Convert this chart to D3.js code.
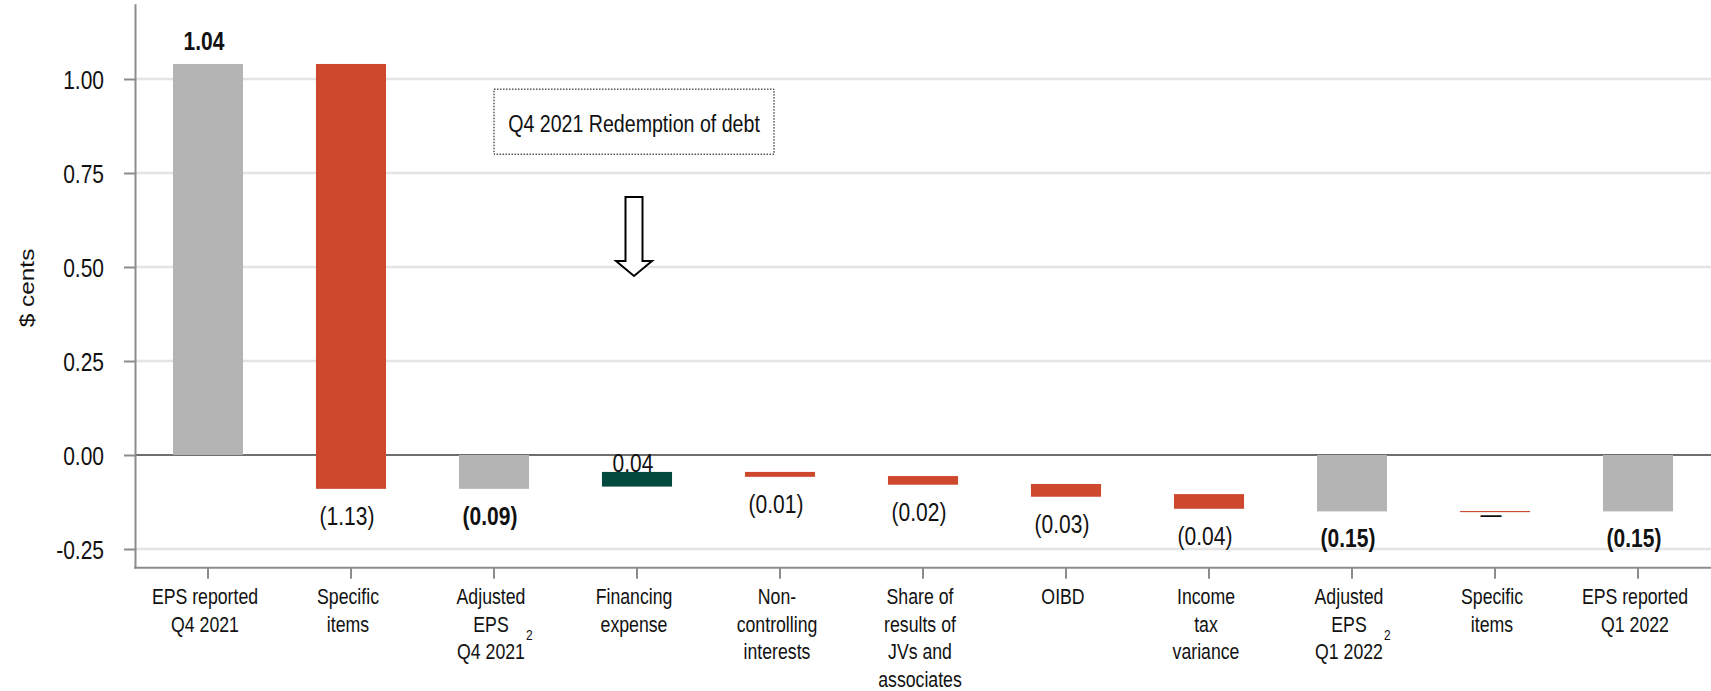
<!DOCTYPE html>
<html lang="en">

<head>
    <meta charset="UTF-8">
    <title>EPS bridge Q4 2021 - Q1 2022</title>
    <style>
        body {
            margin: 0;
            background: #fff;
        }

        svg text {
            font-family: "Liberation Sans", Arial, sans-serif;
            fill: #111;
        }
    </style>
</head>

<body>
    <div id="chart"></div>
    <script src="https://d3js.org/d3.v7.min.js"></script>

    <script>
        // categories (lines of the x labels), footnote markers
        const categories = [
            ['EPS reported', 'Q4 2021'],
            ['Specific', 'items'],
            ['Adjusted', 'EPS', 'Q4 2021'],
            ['Financing', 'expense'],
            ['Non-', 'controlling', 'interests'],
            ['Share of', 'results of', 'JVs and', 'associates'],
            ['OIBD'],
            ['Income', 'tax', 'variance'],
            ['Adjusted', 'EPS', 'Q1 2022'],
            ['Specific', 'items'],
            ['EPS reported', 'Q1 2022']
        ];
        const footnotes = ['', '', '2', '', '', '', '', '', '2', '', ''];

        // bar start / end values
        const barFrom = [0, 1.04, 0, -0.084, -0.045, -0.056, -0.077, -0.104, 0, -0.149, 0];
        const barTo = [1.04, -0.09, -0.09, -0.045, -0.058, -0.079, -0.111, -0.143, -0.15, -0.152, -0.15];
        const kinds = ['total', 'decrease', 'total', 'increase', 'decrease', 'decrease',
            'decrease', 'decrease', 'total', 'decrease', 'total'];
        const valueLabels = ['1.04', '(1.13)', '(0.09)', '0.04', '(0.01)', '(0.02)',
            '(0.03)', '(0.04)', '(0.15)', '\u2014', '(0.15)'];

        const yTicks = [-0.25, 0, 0.25, 0.5, 0.75, 1.0];
        const yLabel = '$ cents';
        const note = 'Q4 2021 Redemption of debt';

        const colors = { total: '#b4b4b4', decrease: '#cd482c', increase: '#024a3e' };

        const width = 1711;
        const height = 691;
        const SY = 1.22; // text in the original is stretched vertically

        const svg = d3.select('#chart')
            .append('svg')
            .attr('width', width)
            .attr('height', height);

        const x = d3.scaleBand()
            .domain(d3.range(categories.length))
            .range([136.5, 1709.5])
            .paddingInner(0.51)
            .paddingOuter(0.255);

        const y = d3.scaleLinear()
            .domain([-0.3, 1.2])
            .range([567.8, 3.8]);

        const cx = i => x(i) + x.bandwidth() / 2;

        // text with the vertical stretch, y = baseline
        function stext(g, tx, ty, str, size, anchor, weight) {
            return g.append('text')
                .attr('transform', `translate(${tx},${ty}) scale(1,${SY})`)
                .attr('text-anchor', anchor || 'middle')
                .attr('font-size', size)
                .attr('font-weight', weight || 'normal')
                .text(str);
        }

        // grid lines
        svg.append('g').selectAll('line')
            .data(yTicks.filter(d => d !== 0))
            .enter().append('line')
            .attr('x1', 136).attr('x2', width)
            .attr('y1', d => y(d)).attr('y2', d => y(d))
            .attr('stroke', '#e4e4e4')
            .attr('stroke-width', 2.5);

        // zero line
        svg.append('line')
            .attr('x1', 135).attr('x2', width)
            .attr('y1', y(0)).attr('y2', y(0))
            .attr('stroke', '#6e6e6e')
            .attr('stroke-width', 2);

        // y axis
        const fmt = d3.format('.2f');
        const yAxis = svg.append('g')
            .attr('transform', 'translate(135,0)')
            .call(d3.axisLeft(y).tickValues(yTicks).tickFormat(d => fmt(d).replace('\u2212', '-'))
                .tickSize(11).tickSizeOuter(0));
        yAxis.select('.domain').attr('stroke', '#8c8c8c').attr('stroke-width', 2);
        yAxis.selectAll('.tick line').attr('stroke', '#8c8c8c').attr('stroke-width', 2);
        yAxis.selectAll('.tick text')
            .attr('x', -31)
            .attr('dy', null)
            .attr('y', 9.5 / SY)
            .attr('transform', `scale(1,${SY})`)
            .attr('font-size', 21)
            .attr('font-family', null)
            .attr('fill', '#111');

        // x axis
        svg.append('line')
            .attr('x1', 134).attr('x2', width)
            .attr('y1', y(-0.3)).attr('y2', y(-0.3))
            .attr('stroke', '#8c8c8c')
            .attr('stroke-width', 2);
        svg.append('g').selectAll('line')
            .data(d3.range(categories.length))
            .enter().append('line')
            .attr('x1', cx).attr('x2', cx)
            .attr('y1', y(-0.3)).attr('y2', y(-0.3) + 11)
            .attr('stroke', '#8c8c8c')
            .attr('stroke-width', 2);

        // bars
        svg.append('g').selectAll('rect')
            .data(d3.range(categories.length))
            .enter().append('rect')
            .attr('x', i => x(i))
            .attr('width', x.bandwidth())
            .attr('y', i => y(Math.max(barFrom[i], barTo[i])))
            .attr('height', i => Math.max(1, Math.abs(y(barFrom[i]) - y(barTo[i]))))
            .attr('fill', i => colors[kinds[i]]);

        // value labels
        const vl = svg.append('g');
        valueLabels.forEach((t, i) => {
            const top = y(Math.max(barFrom[i], barTo[i]));
            const bottom = y(Math.min(barFrom[i], barTo[i]));
            let by;
            if (kinds[i] === 'total' && barTo[i] > 0) by = top - 14;
            else if (kinds[i] === 'increase') by = top;
            else if (t === '\u2014') by = bottom + 11;
            else by = bottom + 36;
            stext(vl, cx(i) - 4, by, t, 21, 'middle', kinds[i] === 'total' ? 'bold' : 'normal');
        });

        // category labels
        const cl = svg.append('g');
        categories.forEach((lines, i) => {
            lines.forEach((line, j) => {
                const t = stext(cl, cx(i) - 3, 604 + j * 27.5, line, 17.7);
                if (footnotes[i] && j === lines.length - 1) {
                    const w = t.node().getComputedTextLength();
                    stext(cl, cx(i) - 3 + w / 2 + 1, 604 + j * 27.5 - 19, footnotes[i], 12, 'start');
                }
            });
        });

        // y axis title
        svg.append('text')
            .attr('transform', `translate(33.5,288) scale(1,${SY}) rotate(-90)`)
            .attr('text-anchor', 'middle')
            .attr('font-size', 20)
            .text(yLabel);

        // annotation box + arrow over financing expense
        const ax = cx(3) - 3;
        svg.append('rect')
            .attr('x', ax - 140).attr('width', 280)
            .attr('y', y(0.973)).attr('height', y(0.80) - y(0.973))
            .attr('fill', 'none')
            .attr('stroke', '#000')
            .attr('stroke-width', 1)
            .attr('stroke-dasharray', '1.5,1.5');
        stext(svg, ax, y(0.86), note, 19.6);

        const arrow = [
            [ax - 8.5, y(0.686)], [ax + 8.5, y(0.686)], [ax + 8.5, y(0.516)], [ax + 18, y(0.516)],
            [ax, y(0.476)], [ax - 18, y(0.516)], [ax - 8.5, y(0.516)]
        ];
        svg.append('path')
            .attr('d', d3.line()(arrow) + 'Z')
            .attr('fill', '#fff')
            .attr('stroke', '#000')
            .attr('stroke-width', 2);
    </script>
</body>

</html>
